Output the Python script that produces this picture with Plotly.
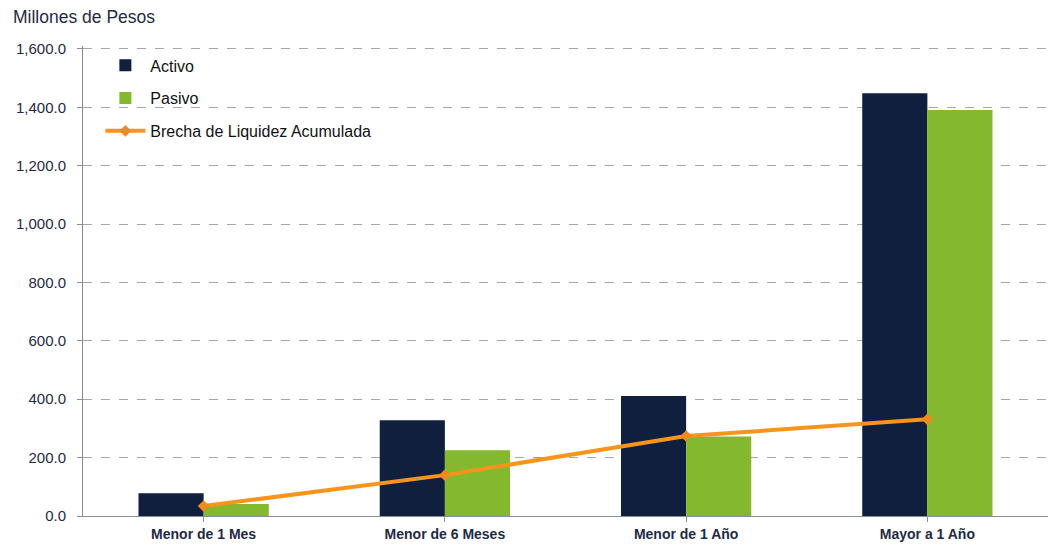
import plotly.graph_objects as go

categories = ["Menor de 1 Mes", "Menor de 6 Meses", "Menor de 1 Año", "Mayor a 1 Año"]
activo = [78, 328, 411, 1448]
pasivo = [41, 225, 272, 1391]
brecha = [34, 140, 274, 331]
y_ticks = [0, 200, 400, 600, 800, 1000, 1200, 1400, 1600]

fig = go.Figure()
fig.add_trace(go.Bar(x=categories, y=activo, name="Activo", legendgroup="a",
                     marker=dict(color="#0F1F3D", line=dict(width=0))))
fig.add_trace(go.Bar(x=categories, y=pasivo, name="Pasivo", legendgroup="b",
                     marker=dict(color="#84B82E", line=dict(width=0))))
fig.add_trace(go.Scatter(x=categories, y=brecha, name="Brecha de Liquidez Acumulada",
                         legendgroup="c", mode="lines+markers",
                         line=dict(color="#F7941D", width=4),
                         marker=dict(symbol="diamond", size=9, color="#EE8A1E")))

fig.update_layout(
    width=1054, height=547,
    margin=dict(l=83, r=6, t=46, b=31),
    paper_bgcolor="white", plot_bgcolor="white",
    barmode="group", bargap=0.46, bargroupgap=0,
    font=dict(family="Liberation Sans Narrow, Arial Narrow, Liberation Sans, Arial", color="#1F2A44"),
    legend=dict(x=0.018, y=0.995, xanchor="left", yanchor="top",
                bgcolor="rgba(0,0,0,0)", font=dict(size=16, family="Liberation Sans, Arial", color="#111"),
                tracegroupgap=9, itemwidth=40),
    annotations=[dict(text="Millones de Pesos", xref="paper", yref="paper",
                      x=-72/965, y=1 + 29/470, xanchor="left", yanchor="middle",
                      showarrow=False,
                      font=dict(size=17.5, family="Liberation Sans, Arial", color="#1F2A44"))],
)
fig.update_yaxes(range=[0, 1610], tickvals=y_ticks, tickformat=",.1f",
                 showgrid=True, gridcolor="#A6A6A6", griddash="dash", gridwidth=1,
                 showline=True, linecolor="#8C8C8C", linewidth=1,
                 ticks="outside", ticklen=5, tickcolor="#8C8C8C",
                 ticklabelstandoff=8,
                 tickfont=dict(size=15), zeroline=False)
fig.update_xaxes(showline=True, linecolor="#8C8C8C", linewidth=1,
                 ticks="outside", ticklen=5, tickcolor="#8C8C8C",
                 tickfont=dict(size=14, family="Liberation Sans Narrow, Arial Narrow, Liberation Sans, Arial", weight="bold"))

fig.write_html("out.html")
